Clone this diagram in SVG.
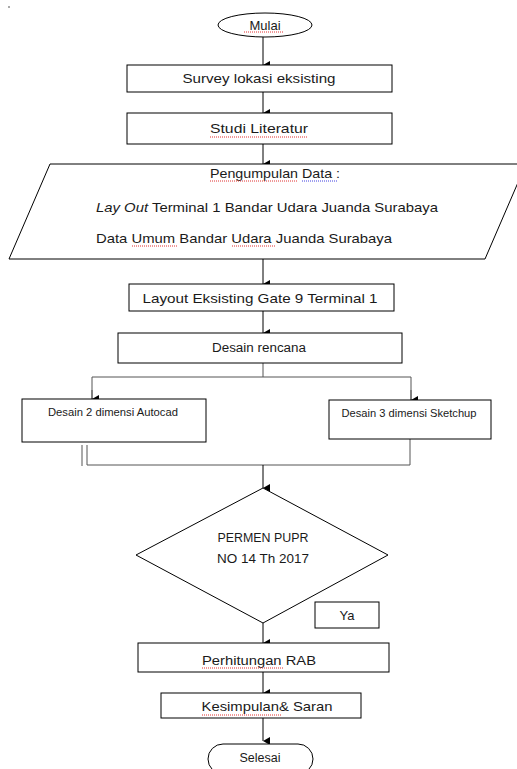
<svg xmlns="http://www.w3.org/2000/svg" width="517" height="769" viewBox="0 0 517 769">
<defs>
<marker id="ah" markerWidth="8" markerHeight="8" refX="4" refY="7" orient="auto" markerUnits="userSpaceOnUse">
<path d="M0,0 L8,0 L4,7 Z" fill="#000"/>
</marker>
<style>
.b{fill:#fff;stroke:#000;stroke-width:1}
.c{fill:none;stroke:#000;stroke-width:1}
.g{fill:none;stroke:#555;stroke-width:1}
.t{font-family:"Liberation Sans",Arial,sans-serif;fill:#1a1a1a;text-anchor:middle}
.tl{font-family:"Liberation Sans",Arial,sans-serif;fill:#1a1a1a}
.sq{fill:none;stroke:#e03030;stroke-width:1;stroke-dasharray:1,1}
.sqb{fill:none;stroke:#4040e0;stroke-width:1;stroke-dasharray:1,1}
</style>
</defs>
<rect width="517" height="769" fill="#fff"/>
<line x1="8" y1="7" x2="10" y2="7" stroke="#555" stroke-width="1"/>

<g id="connectors">
<line class="c" x1="263" y1="37" x2="263" y2="65" marker-end="url(#ah)"/>
<line class="c" x1="263" y1="92" x2="263" y2="113" marker-end="url(#ah)"/>
<line class="c" x1="263" y1="144" x2="263" y2="164" marker-end="url(#ah)"/>
<line class="c" x1="263" y1="259" x2="263" y2="284" marker-end="url(#ah)"/>
<line class="c" x1="263" y1="311" x2="263" y2="333" marker-end="url(#ah)"/>
<polyline class="g" points="263,363 263,377"/>
<polyline class="g" points="92,390 92,377 411,377 411,390"/>
<line class="c" x1="92" y1="390" x2="92" y2="399" marker-end="url(#ah)"/>
<line class="c" x1="411" y1="390" x2="411" y2="400" marker-end="url(#ah)"/>
<polyline class="g" points="87,445 87,465 410,465 410,439"/>
<line class="g" x1="82" y1="445" x2="82" y2="466" stroke="#999"/>
<line class="c" x1="263" y1="465" x2="263" y2="488" marker-end="url(#ah)"/>
<line class="c" x1="263" y1="623" x2="263" y2="643" marker-end="url(#ah)"/>
<line class="c" x1="263" y1="672" x2="263" y2="693" marker-end="url(#ah)"/>
<line class="c" x1="263" y1="718" x2="263" y2="741" marker-end="url(#ah)"/>
</g>

<g id="mulai">
<ellipse class="b" cx="265" cy="25" rx="47" ry="12" stroke="#444"/>
<text class="t" x="265" y="30" font-size="13">Mulai</text>
<line class="sq" x1="244" y1="32" x2="284" y2="32"/>
</g>

<g id="survey">
<rect class="b" x="127" y="65" width="265" height="27"/>
<text class="t" x="259" y="83" font-size="13.5" textLength="153" lengthAdjust="spacingAndGlyphs">Survey lokasi eksisting</text>
</g>

<g id="studi">
<rect class="b" x="127" y="113" width="265" height="31"/>
<text class="t" x="259" y="133" font-size="13.5" textLength="98" lengthAdjust="spacingAndGlyphs">Studi Literatur</text>
<line class="sq" x1="210" y1="137" x2="308" y2="137"/>
</g>

<g id="pengumpulan">
<polygon class="b" points="50,164 526,164 485,259 9,259" stroke="#444"/>
<text class="t" x="275" y="178" font-size="13.5" textLength="130" lengthAdjust="spacingAndGlyphs">Pengumpulan Data :</text>
<line class="sq" x1="210" y1="181" x2="297" y2="181"/>
<line class="sqb" x1="302" y1="181" x2="338" y2="181"/>
<text class="tl" x="96" y="212" font-size="13.5" textLength="342" lengthAdjust="spacingAndGlyphs"><tspan font-style="italic">Lay Out</tspan> Terminal 1 Bandar Udara Juanda Surabaya</text>
<text class="tl" x="96" y="243" font-size="13.5" textLength="296" lengthAdjust="spacingAndGlyphs">Data Umum Bandar Udara Juanda Surabaya</text>
<line class="sq" x1="132" y1="246" x2="177" y2="246"/>
<line class="sq" x1="232" y1="246" x2="275" y2="246"/>
</g>

<g id="layout">
<rect class="b" x="129" y="284" width="265" height="27"/>
<text class="t" x="260" y="303" font-size="13.5" textLength="235" lengthAdjust="spacingAndGlyphs">Layout Eksisting Gate 9 Terminal 1</text>
</g>

<g id="desain">
<rect class="b" x="118" y="333" width="284" height="30"/>
<text class="t" x="259" y="352" font-size="12" textLength="94" lengthAdjust="spacingAndGlyphs">Desain rencana</text>
</g>

<g id="desain2d">
<rect class="b" x="22" y="399" width="184" height="43"/>
<text class="t" x="113" y="416" font-size="10.5" textLength="130" lengthAdjust="spacingAndGlyphs">Desain 2 dimensi Autocad</text>
</g>

<g id="desain3d">
<rect class="b" x="329" y="400" width="162" height="39"/>
<text class="t" x="409" y="417" font-size="10.5" textLength="135" lengthAdjust="spacingAndGlyphs">Desain 3 dimensi Sketchup</text>
</g>

<g id="permen">
<polygon class="b" points="263,488 388,555 263,623 136,555" stroke="#333"/>
<text class="t" x="263" y="542" font-size="12.5" fill="#333" textLength="91" lengthAdjust="spacingAndGlyphs">PERMEN PUPR</text>
<text class="t" x="263" y="563" font-size="12.5" fill="#333" textLength="92" lengthAdjust="spacingAndGlyphs">NO 14 Th 2017</text>
</g>

<g id="ya">
<rect class="b" x="315" y="602" width="64" height="26"/>
<text class="t" x="347" y="620" font-size="13">Ya</text>
</g>

<g id="rab">
<rect class="b" x="138" y="643" width="251" height="29"/>
<text class="t" x="259" y="665" font-size="13.5" textLength="114" lengthAdjust="spacingAndGlyphs">Perhitungan RAB</text>
<line class="sq" x1="202" y1="668" x2="284" y2="668"/>
</g>

<g id="kesimpulan">
<rect class="b" x="161" y="693" width="200" height="25"/>
<text class="t" x="267" y="711" font-size="13.5" textLength="131" lengthAdjust="spacingAndGlyphs">Kesimpulan&amp; Saran</text>
<line class="sq" x1="202" y1="715" x2="281" y2="715"/>
</g>

<g id="selesai">
<rect class="b" x="208" y="744" width="105" height="30" rx="15" ry="15" stroke="#444"/>
<text class="t" x="260" y="762" font-size="12.5">Selesai</text>
</g>
</svg>
